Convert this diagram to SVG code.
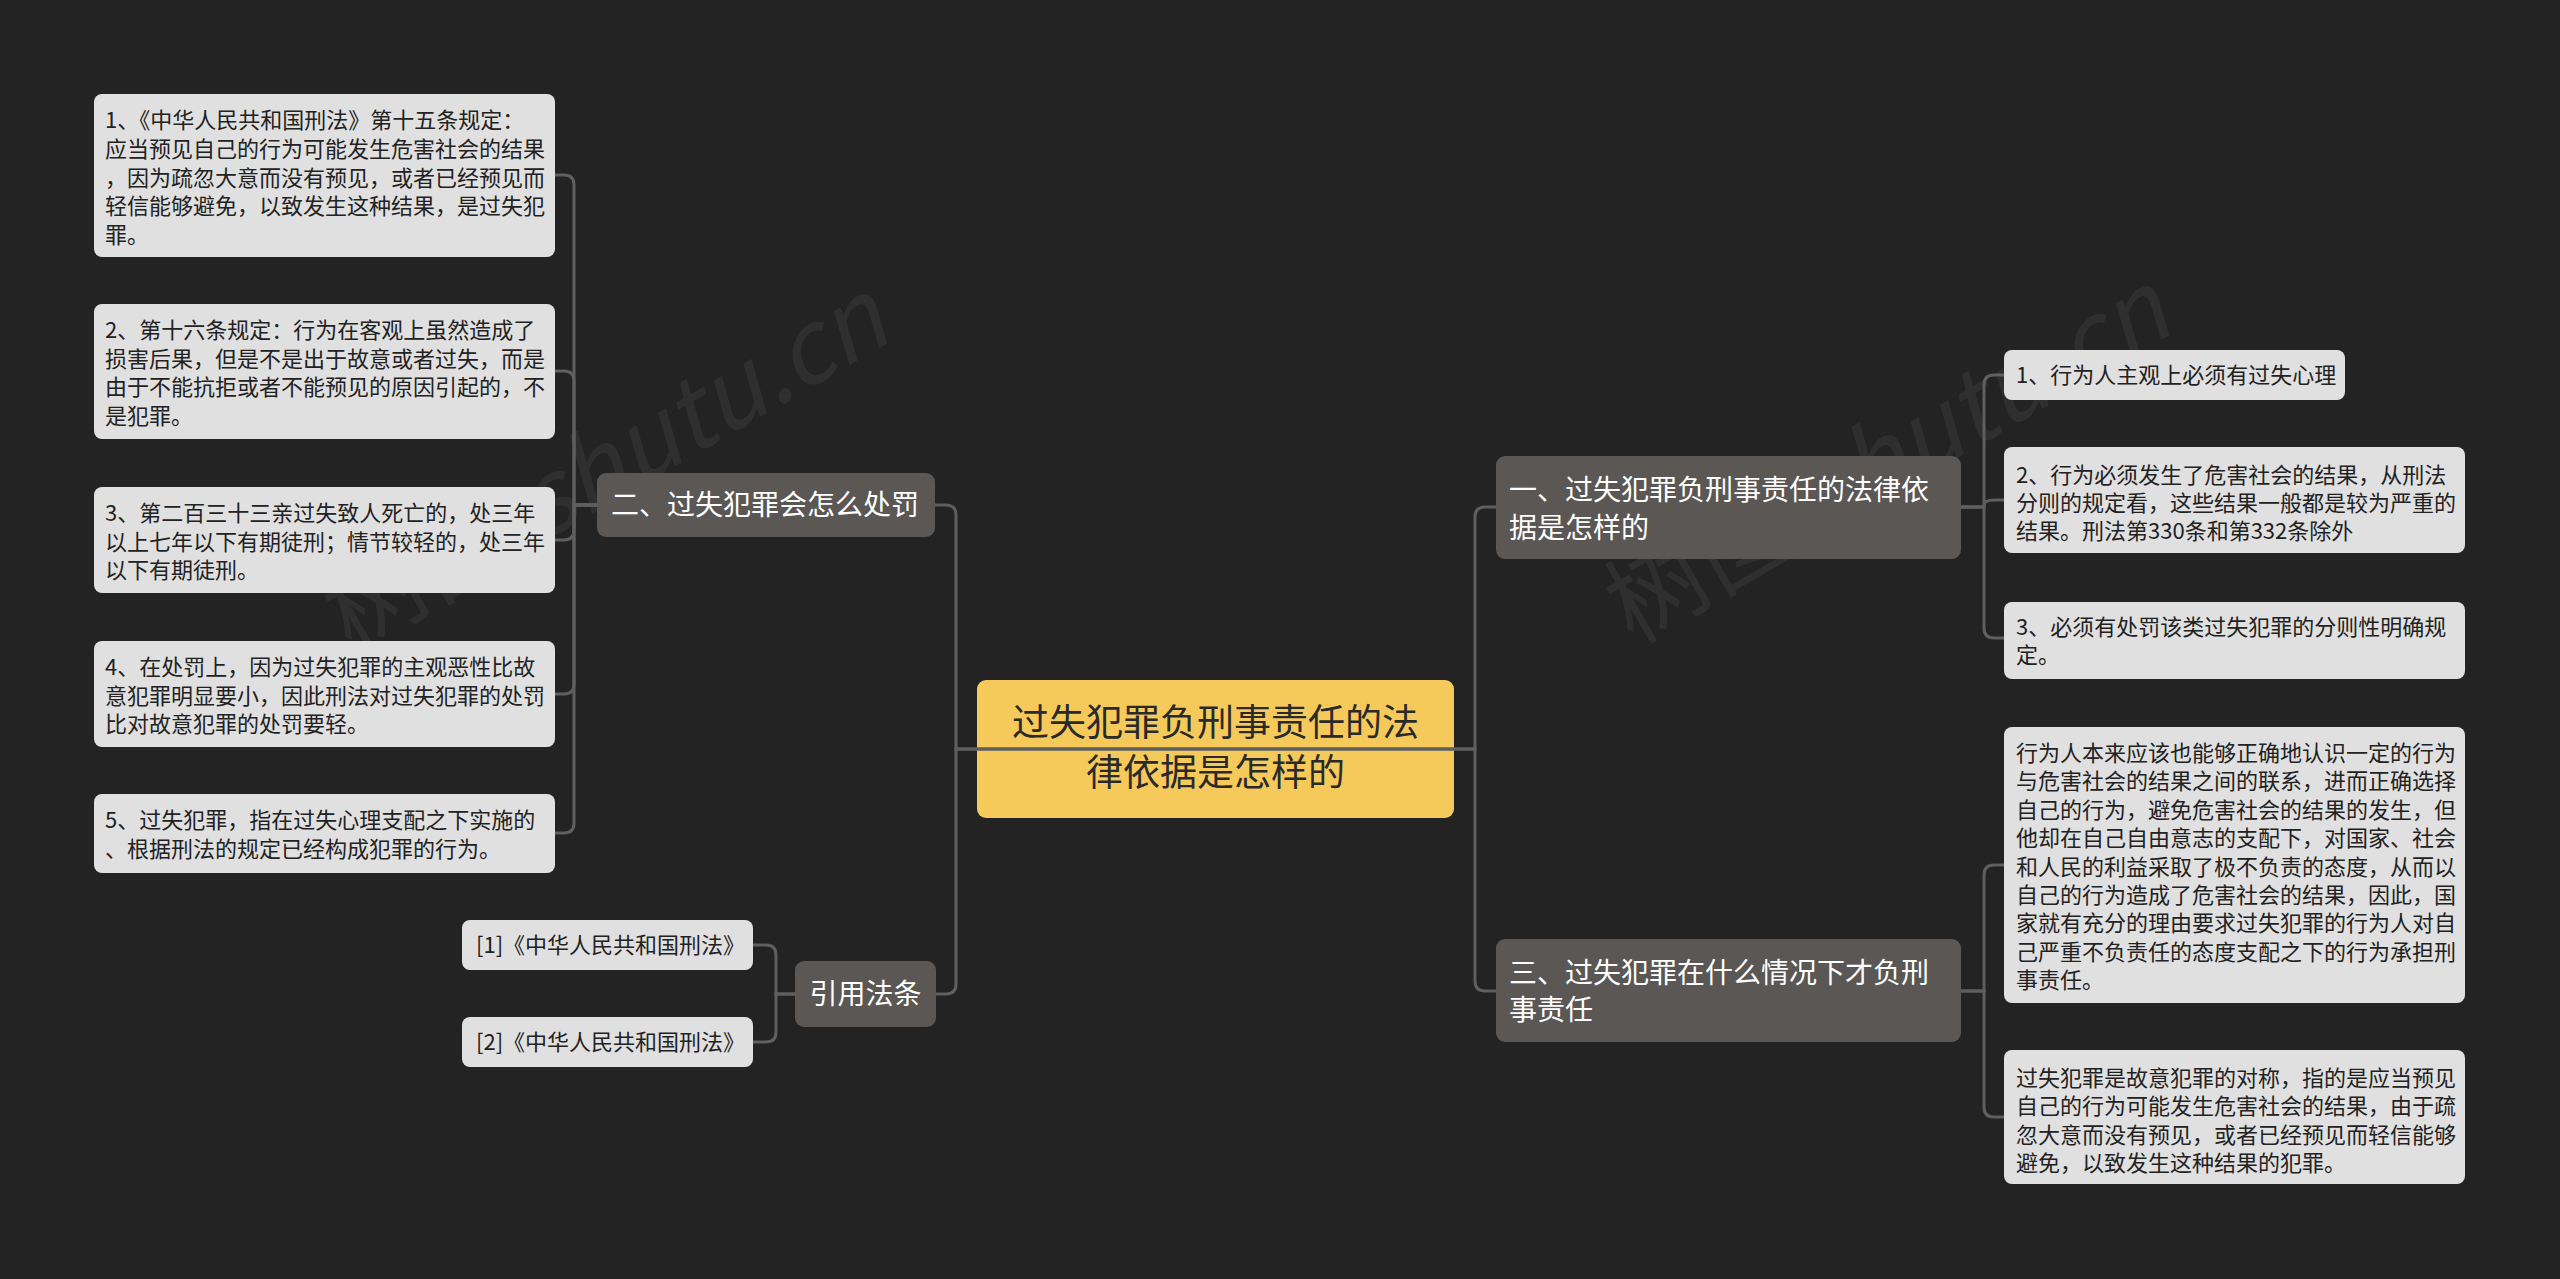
<svg xmlns="http://www.w3.org/2000/svg" width="2560" height="1279" viewBox="0 0 2560 1279">
<style>
.bg{fill:#232323}
.leaf{fill:#e0e0e0}
.sub{fill:#5a5755}
.root{fill:#f5ca5b}
.lt{font-family:"Noto Sans CJK SC","Noto Sans",sans-serif;font-size:22px;fill:#222222}
.st{font-family:"Noto Sans CJK SC","Noto Sans",sans-serif;font-size:28px;fill:#ffffff}
.rt{font-family:"Noto Sans CJK SC","Noto Sans",sans-serif;font-size:37px;fill:#2a2a2a;text-anchor:middle}
.wm{font-family:"Noto Sans CJK SC","Liberation Sans",sans-serif;font-size:100px;fill:#ffffff;fill-opacity:0.06}
.c{fill:none;stroke:#5f5f5f;stroke-width:3}
</style>
<rect class="bg" x="0" y="0" width="2560" height="1279"/>
<text class="wm" transform="translate(351,653) rotate(-30)">树图 <tspan font-style="italic">shutu.cn</tspan></text>
<text class="wm" transform="translate(1633,645) rotate(-30)">树图 <tspan font-style="italic">shutu.cn</tspan></text>

<g id="node-root">
<rect class="root" x="977" y="680" width="477" height="138" rx="9"/>
<text class="rt" x="1215.5" y="736">过失犯罪负刑事责任的法</text>
<text class="rt" x="1215.5" y="786">律依据是怎样的</text>
</g>

<g id="node-b2">
<rect class="sub" x="597" y="473" width="338" height="64" rx="9"/>
<text class="st" x="611" y="515">二、过失犯罪会怎么处罚</text>
</g>
<g id="node-l1">
<rect class="leaf" x="94" y="94" width="461" height="163" rx="8"/>
<text class="lt" x="105"><tspan x="105" y="128">1、《中华人民共和国刑法》第十五条规定：</tspan><tspan x="105" y="157">应当预见自己的行为可能发生危害社会的结果</tspan><tspan x="105" y="185.5">，因为疏忽大意而没有预见，或者已经预见而</tspan><tspan x="105" y="214">轻信能够避免，以致发生这种结果，是过失犯</tspan><tspan x="105" y="242.5">罪。</tspan></text>
</g>
<g id="node-l2">
<rect class="leaf" x="94" y="304" width="461" height="135" rx="8"/>
<text class="lt"><tspan x="105" y="338">2、第十六条规定：行为在客观上虽然造成了</tspan><tspan x="105" y="366.5">损害后果，但是不是出于故意或者过失，而是</tspan><tspan x="105" y="395">由于不能抗拒或者不能预见的原因引起的，不</tspan><tspan x="105" y="423.5">是犯罪。</tspan></text>
</g>
<g id="node-l3">
<rect class="leaf" x="94" y="487" width="461" height="106" rx="8"/>
<text class="lt"><tspan x="105" y="521">3、第二百三十三亲过失致人死亡的，处三年</tspan><tspan x="105" y="549.5">以上七年以下有期徒刑；情节较轻的，处三年</tspan><tspan x="105" y="578">以下有期徒刑。</tspan></text>
</g>
<g id="node-l4">
<rect class="leaf" x="94" y="641" width="461" height="106" rx="8"/>
<text class="lt"><tspan x="105" y="675">4、在处罚上，因为过失犯罪的主观恶性比故</tspan><tspan x="105" y="703.5">意犯罪明显要小，因此刑法对过失犯罪的处罚</tspan><tspan x="105" y="732">比对故意犯罪的处罚要轻。</tspan></text>
</g>
<g id="node-l5">
<rect class="leaf" x="94" y="794" width="461" height="79" rx="8"/>
<text class="lt"><tspan x="105" y="828">5、过失犯罪，指在过失心理支配之下实施的</tspan><tspan x="105" y="856.5">、根据刑法的规定已经构成犯罪的行为。</tspan></text>
</g>

<g id="node-ref">
<rect class="sub" x="795" y="961" width="141" height="66" rx="9"/>
<text class="st" x="865.5" y="1004" text-anchor="middle">引用法条</text>
</g>
<g id="node-ref1">
<rect class="leaf" x="462" y="920" width="291" height="50" rx="8"/>
<text class="lt" x="476" y="953">[1]《中华人民共和国刑法》</text>
</g>
<g id="node-ref2">
<rect class="leaf" x="462" y="1017" width="291" height="50" rx="8"/>
<text class="lt" x="476" y="1050">[2]《中华人民共和国刑法》</text>
</g>

<g id="node-b1">
<rect class="sub" x="1496" y="456" width="465" height="103" rx="9"/>
<text class="st"><tspan x="1509" y="500">一、过失犯罪负刑事责任的法律依</tspan><tspan x="1509" y="538">据是怎样的</tspan></text>
</g>
<g id="node-r1">
<rect class="leaf" x="2004" y="350" width="341" height="50" rx="8"/>
<text class="lt" x="2016" y="383">1、行为人主观上必须有过失心理</text>
</g>
<g id="node-r2">
<rect class="leaf" x="2004" y="447" width="461" height="106" rx="8"/>
<text class="lt"><tspan x="2016" y="483">2、行为必须发生了危害社会的结果，从刑法</tspan><tspan x="2016" y="511">分则的规定看，这些结果一般都是较为严重的</tspan><tspan x="2016" y="539">结果。刑法第330条和第332条除外</tspan></text>
</g>
<g id="node-r3">
<rect class="leaf" x="2004" y="602" width="461" height="77" rx="8"/>
<text class="lt"><tspan x="2016" y="635">3、必须有处罚该类过失犯罪的分则性明确规</tspan><tspan x="2016" y="663">定。</tspan></text>
</g>

<g id="node-b3">
<rect class="sub" x="1496" y="939" width="465" height="103" rx="9"/>
<text class="st"><tspan x="1509" y="983">三、过失犯罪在什么情况下才负刑</tspan><tspan x="1509" y="1020">事责任</tspan></text>
</g>
<g id="node-r4">
<rect class="leaf" x="2004" y="727" width="461" height="276" rx="8"/>
<text class="lt"><tspan x="2016" y="761">行为人本来应该也能够正确地认识一定的行为</tspan><tspan x="2016" y="789.4">与危害社会的结果之间的联系，进而正确选择</tspan><tspan x="2016" y="817.8">自己的行为，避免危害社会的结果的发生，但</tspan><tspan x="2016" y="846.2">他却在自己自由意志的支配下，对国家、社会</tspan><tspan x="2016" y="874.6">和人民的利益采取了极不负责的态度，从而以</tspan><tspan x="2016" y="903">自己的行为造成了危害社会的结果，因此，国</tspan><tspan x="2016" y="931.4">家就有充分的理由要求过失犯罪的行为人对自</tspan><tspan x="2016" y="959.8">己严重不负责任的态度支配之下的行为承担刑</tspan><tspan x="2016" y="988.2">事责任。</tspan></text>
</g>
<g id="node-r5">
<rect class="leaf" x="2004" y="1050" width="461" height="134" rx="8"/>
<text class="lt"><tspan x="2016" y="1086">过失犯罪是故意犯罪的对称，指的是应当预见</tspan><tspan x="2016" y="1114.3">自己的行为可能发生危害社会的结果，由于疏</tspan><tspan x="2016" y="1142.6">忽大意而没有预见，或者已经预见而轻信能够</tspan><tspan x="2016" y="1170.9">避免，以致发生这种结果的犯罪。</tspan></text>
</g>

<g id="connectors">
<path class="c" d="M1215,749 H956 V515 Q956,505 946,505 H935"/>
<path class="c" d="M1215,749 H956 V984 Q956,994 946,994 H936"/>
<path class="c" d="M1215,749 H1475 V517 Q1475,507 1485,507 H1496"/>
<path class="c" d="M1215,749 H1475 V981 Q1475,991 1485,991 H1496"/>
<path class="c" d="M597,505 H574 V185 Q574,175 564,175 H555"/>
<path class="c" d="M597,505 H574 V381 Q574,371 564,371 H555"/>
<path class="c" d="M597,505 H574 V530 Q574,540 564,540 H555"/>
<path class="c" d="M597,505 H574 V684 Q574,694 564,694 H555"/>
<path class="c" d="M597,505 H574 V823 Q574,833 564,833 H555"/>
<path class="c" d="M795,994 H776 V955 Q776,945 766,945 H753"/>
<path class="c" d="M795,994 H776 V1032 Q776,1042 766,1042 H753"/>
<path class="c" d="M1961,507 H1984 V385 Q1984,375 1994,375 H2004"/>
<path class="c" d="M1961,507 H1984 V505 Q1984,500 1994,500 H2004"/>
<path class="c" d="M1961,507 H1984 V628 Q1984,638 1994,638 H2004"/>
<path class="c" d="M1961,991 H1984 V875 Q1984,865 1994,865 H2004"/>
<path class="c" d="M1961,991 H1984 V1107 Q1984,1117 1994,1117 H2004"/>
</g>
</svg>
